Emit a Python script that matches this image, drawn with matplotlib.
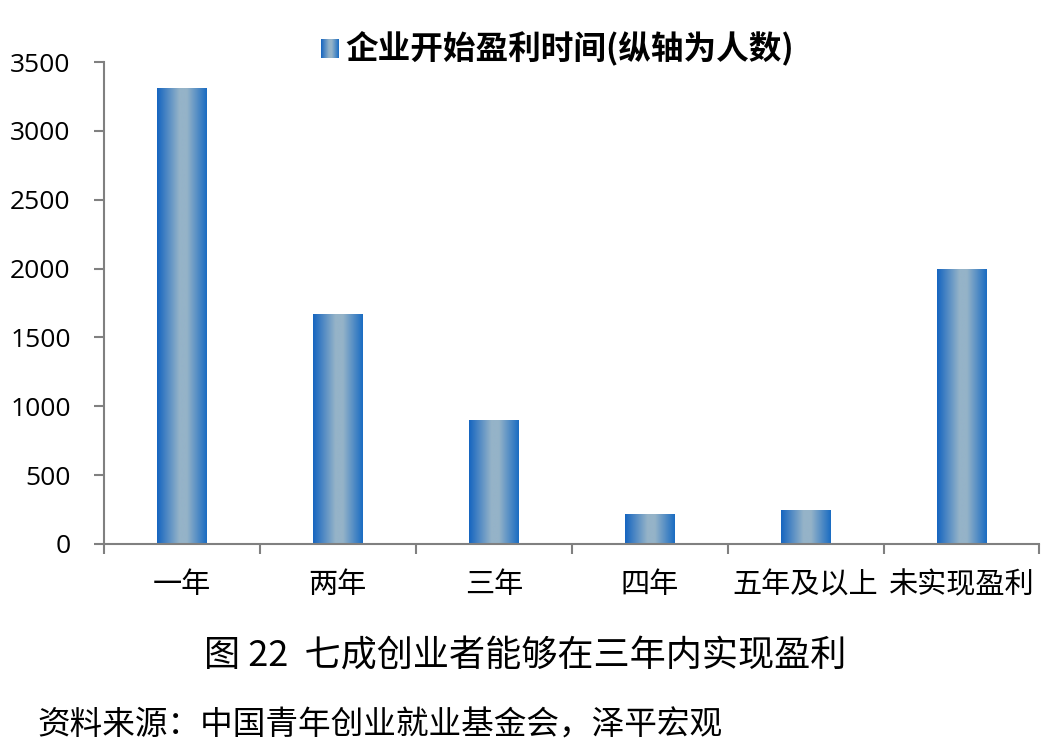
import numpy as np
import matplotlib
matplotlib.use("Agg")
import matplotlib.pyplot as plt
from matplotlib.colors import LinearSegmentedColormap

plt.rcParams['font.family'] = ['Noto Sans CJK SC', 'DejaVu Sans']

categories = ["一年", "两年", "三年", "四年", "五年及以上", "未实现盈利"]
values = [3310, 1670, 900, 220, 248, 2000]
legend_label = "企业开始盈利时间(纵轴为人数)"
caption = "图 22  七成创业者能够在三年内实现盈利"
source = "资料来源：中国青年创业就业基金会，泽平宏观"

#gradient: blue edges, pale centre
grad_cmap = LinearSegmentedColormap.from_list(
    "bar_grad", [(0.0, "#1565c0"), (0.45, "#95b3c8"), (0.6, "#95b3c8"), (1.0, "#1a6cc2")])
grad = np.linspace(0, 1, 256).reshape(1, -1)

fig = plt.figure(figsize=(10.5, 7.49), dpi=100)
ax = fig.add_axes([0.099, 0.2737, 0.891, 0.6435])

x = np.arange(len(categories))
bars = ax.bar(x, values, width=0.32, color="none", edgecolor="none", zorder=2)
for b in bars:
    x0, y0 = b.get_x(), b.get_y()
    w, h = b.get_width(), b.get_height()
    im = ax.imshow(grad, cmap=grad_cmap, aspect="auto",
                   extent=[x0, x0 + w, y0, y0 + h], zorder=2)
    im.set_clip_path(b)

ax.set_xlim(-0.5, len(categories) - 0.5)
ax.set_ylim(0, 3500)
ax.set_yticks(np.arange(0, 3501, 500))
ax.set_yticklabels([str(v) for v in range(0, 3501, 500)], fontsize=19,
                   family=['Open Sans', 'DejaVu Sans'])
ax.set_xticks(x)
ax.set_xticklabels(categories, fontsize=21)
ax.set_xticks(np.arange(-0.5, len(categories), 1), minor=True)
ax.tick_params(axis="x", which="major", length=0, pad=19)
ax.tick_params(axis="x", which="minor", length=7, width=1.5, color="#808080", direction="out")
ax.tick_params(axis="y", length=7, width=1.5, color="#808080", direction="out", pad=17)

for s in ["top", "right"]:
    ax.spines[s].set_visible(False)
for s in ["left", "bottom"]:
    ax.spines[s].set_color("#808080")
    ax.spines[s].set_linewidth(1.5)

#legend: gradient square + bold label
lax = fig.add_axes([0.306, 0.923, 0.017, 0.025])
lax.imshow(grad, cmap=grad_cmap, aspect="auto")
lax.axis("off")
fig.text(0.329, 0.935, legend_label, fontsize=23.5, fontweight="bold", va="center", ha="left")

fig.text(0.5, 0.124, caption, fontsize=26, ha="center", va="center")
fig.text(0.036, 0.032, source, fontsize=23.5, ha="left", va="center")

fig.savefig("out.png", dpi=100)
